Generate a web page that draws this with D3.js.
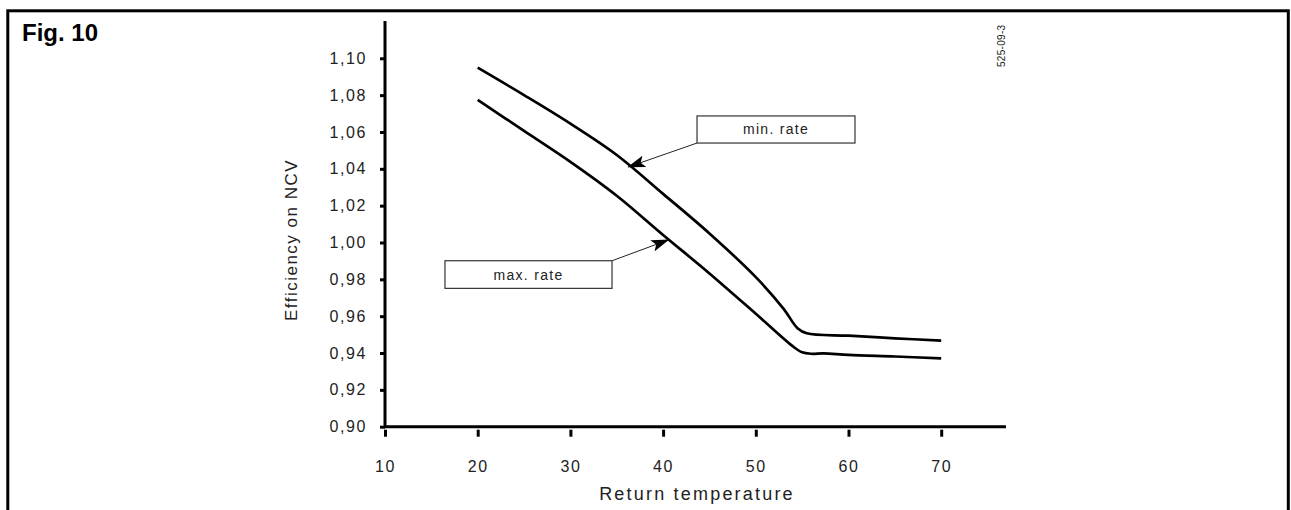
<!DOCTYPE html>
<html>
<head>
<meta charset="utf-8">
<script src="https://cdn.jsdelivr.net/npm/d3@7"></script>
<style>
  html, body { margin: 0; padding: 0; background: #fff; }
  svg { display: block; font-family: "Liberation Sans", Arial, sans-serif; }
</style>
</head>
<body>
<svg id="chart" width="1291" height="510"></svg>
<script>
// ---- data ----
const xTicks = [10, 20, 30, 40, 50, 60, 70];
const yTicks = [0.90, 0.92, 0.94, 0.96, 0.98, 1.00, 1.02, 1.04, 1.06, 1.08, 1.10];

const minRateX = [20, 25, 30, 35, 40, 45, 50, 53, 54.5, 55.5, 60, 65, 70];
const minRateY = [1.0949, 1.0800, 1.0645, 1.0475, 1.0264, 1.0049, 0.9812, 0.9640, 0.9535, 0.9507, 0.9494, 0.9480, 0.9467];

const maxRateX = [20, 25, 30, 35, 40, 45, 50, 54, 55, 56, 57.3, 60, 65, 70];
const maxRateY = [1.0774, 1.0606, 1.0438, 1.0254, 1.0041, 0.9832, 0.9613, 0.9436, 0.9404, 0.9396, 0.9398, 0.9390, 0.9381, 0.9371];

// annotations: label, box corners (data units), arrow start corner, arrow tip (data units)
const annotations = [
  { label: "min. rate", x0: 43.66, x1: 60.7, y0: 1.0687, y1: 1.0540, fromX: 43.66, fromY: 1.0540, tipX: 36.25, tipY: 1.0410 },
  { label: "max. rate", x0: 16.47, x1: 34.49, y0: 0.9901, y1: 0.9751, fromX: 34.49, fromY: 0.9901, tipX: 40.57, tipY: 1.0014 }
];

// ---- layout ----
const svg = d3.select("#chart");
const x = d3.scaleLinear().domain([10, 20]).range([385, 477.7]);
const y = d3.scaleLinear().domain([0.90, 1.10]).range([426.7, 58.3]);
const xMax = x.invert(1006);
const yMax = y.invert(21);

// frame
svg.append("rect")
  .attr("x", 7.8).attr("y", 10.8).attr("width", 1280.5).attr("height", 520)
  .attr("fill", "none").attr("stroke", "#000").attr("stroke-width", 3);

svg.append("text").attr("x", 22).attr("y", 41)
  .attr("font-size", 24).attr("font-weight", "bold").attr("fill", "#000")
  .text("Fig. 10");

svg.append("text")
  .attr("transform", `translate(1005,67) rotate(-90)`)
  .attr("font-size", 10).attr("letter-spacing", 0.3).attr("fill", "#222")
  .text("525-09-3");

// axes
const yAxis = d3.axisLeft(y).tickValues(yTicks).tickSize(5).tickPadding(13)
  .tickFormat(d => d3.format(".2f")(d).replace(".", ","));
const gy = svg.append("g").attr("transform", `translate(${x(10)},0)`).call(yAxis);
gy.select(".domain").remove();
gy.selectAll(".tick line").attr("stroke", "#000").attr("stroke-width", 3);
gy.selectAll(".tick text").attr("font-size", 16).attr("letter-spacing", 1.6)
  .attr("fill", "#222").attr("font-family", "Liberation Sans, Arial, sans-serif");

const xAxis = d3.axisBottom(x).tickValues(xTicks).tickSize(10).tickPadding(24);
const gx = svg.append("g").attr("transform", `translate(0,${y(0.90)})`).call(xAxis);
gx.select(".domain").remove();
gx.selectAll(".tick line").attr("stroke", "#000").attr("stroke-width", 3).attr("y1", 3);
gx.selectAll(".tick text").attr("font-size", 16).attr("letter-spacing", 1.6)
  .attr("fill", "#222").attr("font-family", "Liberation Sans, Arial, sans-serif");

// axis lines
svg.append("path")
  .attr("d", `M${x(10)},${y(yMax)}V${y(0.90)}H${x(xMax)}`)
  .attr("fill", "none").attr("stroke", "#000").attr("stroke-width", 3);

// axis titles
svg.append("text")
  .attr("transform", `translate(297,240) rotate(-90)`)
  .attr("text-anchor", "middle").attr("font-size", 17).attr("letter-spacing", 1.5).attr("fill", "#222")
  .text("Efficiency on NCV");

svg.append("text")
  .attr("x", 697).attr("y", 500)
  .attr("text-anchor", "middle").attr("font-size", 18).attr("letter-spacing", 2.2).attr("fill", "#222")
  .text("Return temperature");

// curves
const line = d3.line().x(d => x(d[0])).y(d => y(d[1])).curve(d3.curveCatmullRom.alpha(0.5));
const series = [
  d3.zip(minRateX, minRateY),
  d3.zip(maxRateX, maxRateY)
];
svg.selectAll(".curve").data(series).join("path")
  .attr("class", "curve")
  .attr("d", line)
  .attr("fill", "none").attr("stroke", "#000").attr("stroke-width", 2.7)
  .attr("stroke-linejoin", "round");

// annotation arrows
svg.append("defs").append("marker")
  .attr("id", "arrow").attr("viewBox", "0 0 18 12").attr("refX", 17).attr("refY", 6)
  .attr("markerWidth", 18).attr("markerHeight", 12).attr("markerUnits", "userSpaceOnUse")
  .attr("orient", "auto")
  .append("path").attr("d", "M0,0L18,6L0,12L4,6Z").attr("fill", "#000");

const ann = svg.selectAll(".ann").data(annotations).join("g").attr("class", "ann");
ann.append("line")
  .attr("x1", d => x(d.fromX)).attr("y1", d => y(d.fromY))
  .attr("x2", d => x(d.tipX)).attr("y2", d => y(d.tipY))
  .attr("stroke", "#222").attr("stroke-width", 1).attr("marker-end", "url(#arrow)");
ann.append("rect")
  .attr("x", d => x(d.x0)).attr("y", d => y(d.y0))
  .attr("width", d => x(d.x1) - x(d.x0)).attr("height", d => y(d.y1) - y(d.y0))
  .attr("fill", "#fff").attr("stroke", "#333").attr("stroke-width", 1.2);
ann.append("text")
  .attr("x", d => (x(d.x0) + x(d.x1)) / 2).attr("y", d => (y(d.y0) + y(d.y1)) / 2 + 5)
  .attr("text-anchor", "middle").attr("font-size", 14).attr("letter-spacing", 1.3).attr("fill", "#222")
  .text(d => d.label);
</script>
</body>
</html>
